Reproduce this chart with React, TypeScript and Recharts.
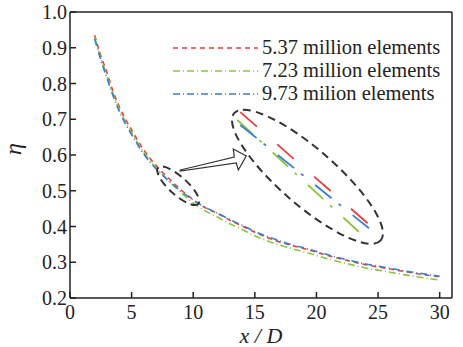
import { Legend, Line, LineChart, ReferenceDot, ReferenceLine, XAxis, YAxis } from 'recharts'

const xValues = [2, 2.5, 3, 3.5, 4, 4.5, 5, 5.5, 6, 6.5, 7, 8, 9, 10, 11, 12, 13, 14, 15, 16, 17, 18, 19, 20, 21, 22, 23, 24, 25, 26, 27, 28, 29, 30]

const eta537 = [0.935, 0.878, 0.83, 0.778, 0.735, 0.7, 0.67, 0.64, 0.613, 0.59, 0.57, 0.535, 0.503, 0.475, 0.452, 0.436, 0.417, 0.401, 0.384, 0.369, 0.357, 0.347, 0.338, 0.328, 0.318, 0.309, 0.301, 0.293, 0.287, 0.281, 0.275, 0.269, 0.264, 0.259]
const eta723 = [0.93, 0.872, 0.822, 0.771, 0.728, 0.693, 0.663, 0.634, 0.607, 0.584, 0.564, 0.528, 0.495, 0.466, 0.443, 0.426, 0.407, 0.391, 0.374, 0.36, 0.348, 0.338, 0.329, 0.319, 0.309, 0.3, 0.292, 0.284, 0.278, 0.272, 0.266, 0.26, 0.255, 0.25]
const eta973 = [0.925, 0.866, 0.815, 0.765, 0.722, 0.687, 0.657, 0.628, 0.602, 0.58, 0.561, 0.528, 0.499, 0.474, 0.453, 0.437, 0.419, 0.403, 0.386, 0.372, 0.36, 0.349, 0.34, 0.33, 0.32, 0.311, 0.303, 0.295, 0.289, 0.283, 0.277, 0.271, 0.266, 0.261]

const seriesNames = ['5.37 million elements', '7.23 million elements', '9.73 milion elements']
const xTicks = [0, 5, 10, 15, 20, 25, 30]
const yTicks = [0.2, 0.3, 0.4, 0.5, 0.6, 0.7, 0.8, 0.9, 1.0]

// magnified segments shown inside the big ellipse (data coords)
const insetRed = [{ x: 13.82, y: 0.72 }, { x: 24.55, y: 0.397 }]
const insetGreen = [{ x: 13.58, y: 0.698 }, { x: 23.98, y: 0.368 }]
const insetBlue = [{ x: 13.82, y: 0.684 }, { x: 24.63, y: 0.385 }]

const colors = ['#e8403c', '#8cc63e', '#3b7dd0']
const dashes = ['5 4', '7 3 1 3', '7 3 1 3']
const insetDashes = ['22 27', '21 9 3 15', '21 9 3 15']
const font = 'Liberation Serif, DejaVu Serif, serif'
const ink = '#222'

const data = xValues.map((x, i) => ({ x, a: eta537[i], b: eta723[i], c: eta973[i] }))

function EllipseShape({ cx, cy, rx, ry, angle }: any) {
  return (
    <ellipse
      cx={cx}
      cy={cy}
      rx={rx}
      ry={ry}
      transform={`rotate(${angle} ${cx} ${cy})`}
      fill='none'
      stroke='#333'
      strokeWidth={2}
      strokeDasharray='8 5'
    />
  )
}

function ArrowShape({ cx, cy }: any) {
  // hollow arrow from the small ellipse to the big one
  const pts = [
    [0, 0],
    [54, -13],
    [53, -21],
    [66, -14],
    [58, 0],
    [56, -7],
    [0, 1]
  ]
  return (
    <polygon
      points={pts.map(([dx, dy]) => `${cx + dx},${cy + dy}`).join(' ')}
      fill='#fff'
      stroke='#333'
      strokeWidth={1.2}
    />
  )
}

function LegendBox() {
  return (
    <svg width={290} height={72}>
      {seriesNames.map((name, i) => (
        <g key={name}>
          <line x1={3} x2={88} y1={12 + i * 23} y2={12 + i * 23} stroke={colors[i]} strokeWidth={1.5} strokeDasharray={dashes[i]} />
          <text x={92} y={18 + i * 23} fontSize={20.5} fill={ink}>
            {name}
          </text>
        </g>
      ))}
    </svg>
  )
}

export default function App() {
  return (
    <div style={{ width: 463, height: 347, background: '#fff', fontFamily: font }}>
      <style>{'body{margin:0} svg text{font-family:"Liberation Serif","DejaVu Serif",serif !important}'}</style>
      <LineChart width={463} height={347} data={data} margin={{ top: 12, right: 11, left: 10, bottom: 4 }}>
        <XAxis
          dataKey='x'
          type='number'
          domain={[0, 31]}
          ticks={xTicks}
          allowDataOverflow
          stroke={ink}
          strokeWidth={1.5}
          tickSize={-6}
          tickMargin={13}
          height={45}
          tick={{ fontSize: 20, fill: ink }}
          label={{ value: 'x / D', position: 'insideBottom', offset: 0, fontSize: 22, fontStyle: 'italic', fill: ink }}
        />
        <YAxis
          type='number'
          domain={[0.2, 1.0]}
          ticks={yTicks}
          allowDataOverflow
          tickFormatter={(v: number) => v.toFixed(1)}
          stroke={ink}
          strokeWidth={1.5}
          tickSize={-6}
          tickMargin={9}
          width={60}
          tick={{ fontSize: 20, fill: ink }}
          label={{ value: 'η', angle: -90, position: 'insideLeft', offset: 0, dx: 2, fontSize: 24, fontStyle: 'italic', fill: ink }}
        />
        <ReferenceLine y={1.0} stroke={ink} strokeWidth={1.5} />
        <ReferenceLine x={31} stroke={ink} strokeWidth={1.5} />

        <Line type='monotone' dataKey='a' name={seriesNames[0]} stroke={colors[0]} strokeWidth={1.6} strokeDasharray={dashes[0]} dot={false} isAnimationActive={false} />
        <Line type='monotone' dataKey='b' name={seriesNames[1]} stroke={colors[1]} strokeWidth={1.6} strokeDasharray={dashes[1]} dot={false} isAnimationActive={false} />
        <Line type='monotone' dataKey='c' name={seriesNames[2]} stroke={colors[2]} strokeWidth={1.6} strokeDasharray={dashes[2]} dot={false} isAnimationActive={false} />

        <ReferenceLine segment={insetRed} stroke={colors[0]} strokeWidth={1.8} strokeDasharray={insetDashes[0]} />
        <ReferenceLine segment={insetGreen} stroke={colors[1]} strokeWidth={1.8} strokeDasharray={insetDashes[1]} />
        <ReferenceLine segment={insetBlue} stroke={colors[2]} strokeWidth={1.8} strokeDasharray={insetDashes[2]} />

        <ReferenceDot x={8.78} y={0.514} r={1} shape={(p: any) => <EllipseShape {...p} rx={27} ry={9} angle={42} />} />
        <ReferenceDot x={19.27} y={0.539} r={1} shape={(p: any) => <EllipseShape {...p} rx={97} ry={28} angle={41} />} />
        <ReferenceDot x={8.95} y={0.558} r={1} shape={(p: any) => <ArrowShape {...p} />} />

        <Legend
          layout='horizontal'
          verticalAlign='middle'
          align='center'
          content={() => <LegendBox />}
          wrapperStyle={{ position: 'absolute', top: 36, left: 170, width: 290 }}
        />
      </LineChart>
    </div>
  )
}
